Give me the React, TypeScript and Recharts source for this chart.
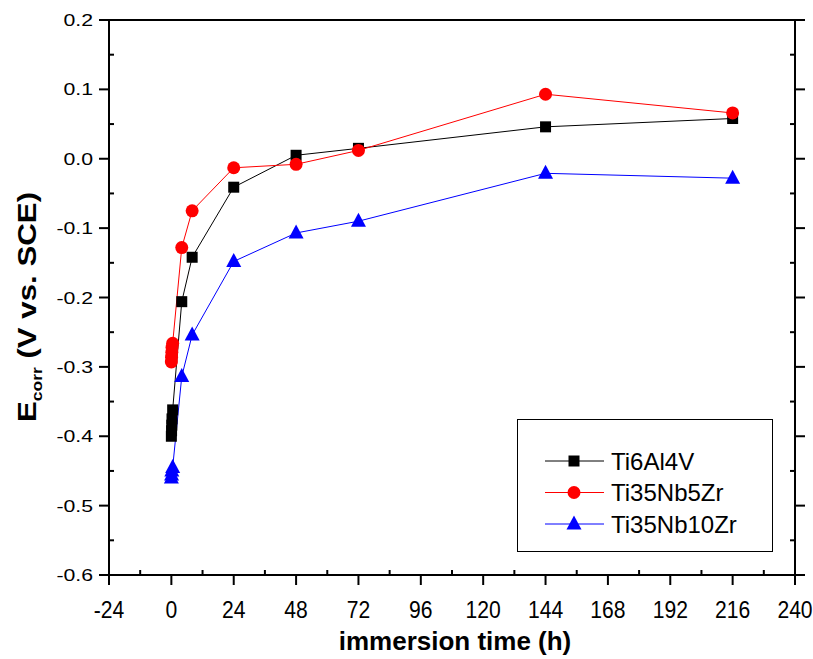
import React from 'react'
import { LineChart, Line, XAxis, YAxis, Legend, Label } from 'recharts'

// immersion times (h) and Ecorr (V vs. SCE)
const ti6al4vTime = [0, 0.08, 0.17, 0.25, 0.5, 4, 8, 24, 48, 72, 144, 216]
const ti6al4vE = [-0.4, -0.392, -0.384, -0.375, -0.362, -0.206, -0.142, -0.041, 0.005, 0.015, 0.046, 0.058]

const ti35nb5zrTime = [0, 0.08, 0.17, 0.25, 0.5, 4, 8, 24, 48, 72, 144, 216]
const ti35nb5zrE = [-0.293, -0.286, -0.279, -0.272, -0.266, -0.128, -0.075, -0.013, -0.008, 0.012, 0.093, 0.066]

const ti35nb10zrTime = [0, 0.08, 0.17, 0.5, 4, 8, 24, 48, 72, 144, 216]
const ti35nb10zrE = [-0.46, -0.456, -0.45, -0.445, -0.314, -0.254, -0.148, -0.107, -0.09, -0.021, -0.028]

const xTicks = [-24, -12, 0, 12, 24, 36, 48, 60, 72, 84, 96, 108, 120, 132, 144, 156, 168, 180, 192, 204, 216, 228, 240]
const yTicks = [0.2, 0.15, 0.1, 0.05, 0, -0.05, -0.1, -0.15, -0.2, -0.25, -0.3, -0.35, -0.4, -0.45, -0.5, -0.55, -0.6]

const seriesNames = ['Ti6Al4V', 'Ti35Nb5Zr', 'Ti35Nb10Zr']
const seriesColors = ['#000000', '#ff0000', '#0000ff']

const toPoints = (ts: number[], vs: number[]) => ts.map((t, i) => ({ t, v: vs[i] }))

const FONT = '"Liberation Sans", Arial, sans-serif'

const isMajorX = (v: number) => v % 24 === 0
const isMajorY = (v: number) => Math.abs(Math.round(v * 10) - v * 10) < 1e-6

// marker shapes
function Marker({ kind, cx, cy, color }: { kind: number; cx: number; cy: number; color: string }) {
  if (kind === 0) return <rect x={cx - 5.5} y={cy - 5.5} width={11} height={11} fill={color} />
  if (kind === 1) return <circle cx={cx} cy={cy} r={6.5} fill={color} />
  return <polygon points={`${cx},${cy - 8.5} ${cx - 7.5},${cy + 5.5} ${cx + 7.5},${cy + 5.5}`} fill={color} />
}

const dotFor = (kind: number) => (p: any) => (
  <Marker key={`${kind}-${p.index}`} kind={kind} cx={p.cx} cy={p.cy} color={seriesColors[kind]} />
)

function BottomTick(p: any) {
  const { x, y } = p
  const v = p.payload.value
  const major = isMajorX(v)
  return (
    <g>
      <line x1={x} x2={x} y1={y} y2={major ? y + 10 : y - 5} stroke="#000" strokeWidth={2} />
      {major && (
        <text
          transform={`translate(${x},${y + 43}) scale(0.88,1)`}
          textAnchor="middle"
          fontSize={24}
          fontFamily={FONT}
          fill="#000"
        >
          {v}
        </text>
      )}
    </g>
  )
}

function TopTick(p: any) {
  const { x, y } = p
  const major = isMajorX(p.payload.value)
  return <line x1={x} x2={x} y1={y} y2={major ? y - 10 : y + 5} stroke="#000" strokeWidth={2} />
}

function LeftTick(p: any) {
  const { x, y } = p
  const v = p.payload.value
  const major = isMajorY(v)
  return (
    <g>
      <line x1={x} x2={major ? x - 10 : x + 5} y1={y} y2={y} stroke="#000" strokeWidth={2} />
      {major && (
        <text
          transform={`translate(${x - 16},${y + 6}) scale(1.25,1)`}
          textAnchor="end"
          fontSize={17}
          fontFamily={FONT}
          fill="#000"
        >
          {v.toFixed(1)}
        </text>
      )}
    </g>
  )
}

function RightTick(p: any) {
  const { x, y } = p
  const major = isMajorY(p.payload.value)
  return <line x1={x} x2={major ? x + 10 : x - 5} y1={y} y2={y} stroke="#000" strokeWidth={2} />
}

function LegendBox() {
  return (
    <svg width={256} height={133} style={{ display: 'block' }}>
      <rect x={0.5} y={0.5} width={255} height={132} fill="#fff" stroke="#000" strokeWidth={1} />
      {seriesNames.map((name, i) => {
        const cy = 42 + i * 31.5
        return (
          <g key={name}>
            <line x1={28} x2={87} y1={cy} y2={cy} stroke={seriesColors[i]} strokeWidth={1} />
            <Marker kind={i} cx={57} cy={cy} color={seriesColors[i]} />
            <text x={94} y={cy + 8.5} fontSize={24} fontFamily={FONT} fill="#000">
              {name}
            </text>
          </g>
        )
      })}
    </svg>
  )
}

export default function App() {
  const data = [
    toPoints(ti6al4vTime, ti6al4vE),
    toPoints(ti35nb5zrTime, ti35nb5zrE),
    toPoints(ti35nb10zrTime, ti35nb10zrE),
  ]

  return (
    <div style={{ position: 'absolute', left: 0, top: 0, width: 813, height: 659, background: '#fff' }}>
      <LineChart width={813} height={659} margin={{ top: 0, right: 0, bottom: 0, left: 0 }}>
        <XAxis
          xAxisId="b"
          dataKey="t"
          type="number"
          domain={[-24, 240]}
          ticks={xTicks}
          interval={0}
          allowDataOverflow
          height={84}
          tickSize={0}
          tickMargin={0}
          tickLine={false}
          axisLine={{ stroke: '#000', strokeWidth: 2 }}
          tick={(p: any) => <BottomTick {...p} />}
        >
          <Label
            content={() => (
              <text
                transform="translate(455,650) scale(1.04,1)"
                textAnchor="middle"
                fontSize={25}
                fontWeight="bold"
                fontFamily={FONT}
                fill="#000"
              >
                immersion time (h)
              </text>
            )}
          />
        </XAxis>
        <XAxis
          xAxisId="t"
          orientation="top"
          type="number"
          domain={[-24, 240]}
          ticks={xTicks}
          interval={0}
          allowDataOverflow
          height={20}
          tickSize={0}
          tickMargin={0}
          tickLine={false}
          axisLine={{ stroke: '#000', strokeWidth: 2 }}
          tick={(p: any) => <TopTick {...p} />}
        />
        <YAxis
          yAxisId="l"
          type="number"
          domain={[-0.6, 0.2]}
          ticks={yTicks}
          interval={0}
          allowDataOverflow
          width={109}
          tickSize={0}
          tickMargin={0}
          tickLine={false}
          axisLine={{ stroke: '#000', strokeWidth: 2 }}
          tick={(p: any) => <LeftTick {...p} />}
        >
          <Label
            content={() => (
              <text
                transform="translate(36,307) rotate(-90) scale(1.25,1)"
                textAnchor="middle"
                fontSize={25}
                fontWeight="bold"
                fontFamily={FONT}
                fill="#000"
              >
                E
                <tspan fontSize={14} dy={6}>corr</tspan>
                <tspan dy={-6}> (V vs. SCE)</tspan>
              </text>
            )}
          />
        </YAxis>
        <YAxis
          yAxisId="r"
          orientation="right"
          type="number"
          domain={[-0.6, 0.2]}
          ticks={yTicks}
          interval={0}
          allowDataOverflow
          width={18}
          tickSize={0}
          tickMargin={0}
          tickLine={false}
          axisLine={{ stroke: '#000', strokeWidth: 2 }}
          tick={(p: any) => <RightTick {...p} />}
        />
        {data.map((pts, i) => (
          <Line
            key={seriesNames[i]}
            name={seriesNames[i]}
            data={pts}
            dataKey="v"
            xAxisId="b"
            yAxisId="l"
            type="linear"
            stroke={seriesColors[i]}
            strokeWidth={1}
            dot={dotFor(i)}
            activeDot={false}
            isAnimationActive={false}
          />
        ))}
        <Legend
          layout="horizontal"
          verticalAlign="middle"
          align="center"
          wrapperStyle={{ left: 517, top: 419, width: 256, height: 133 }}
          content={() => <LegendBox />}
        />
      </LineChart>
    </div>
  )
}
